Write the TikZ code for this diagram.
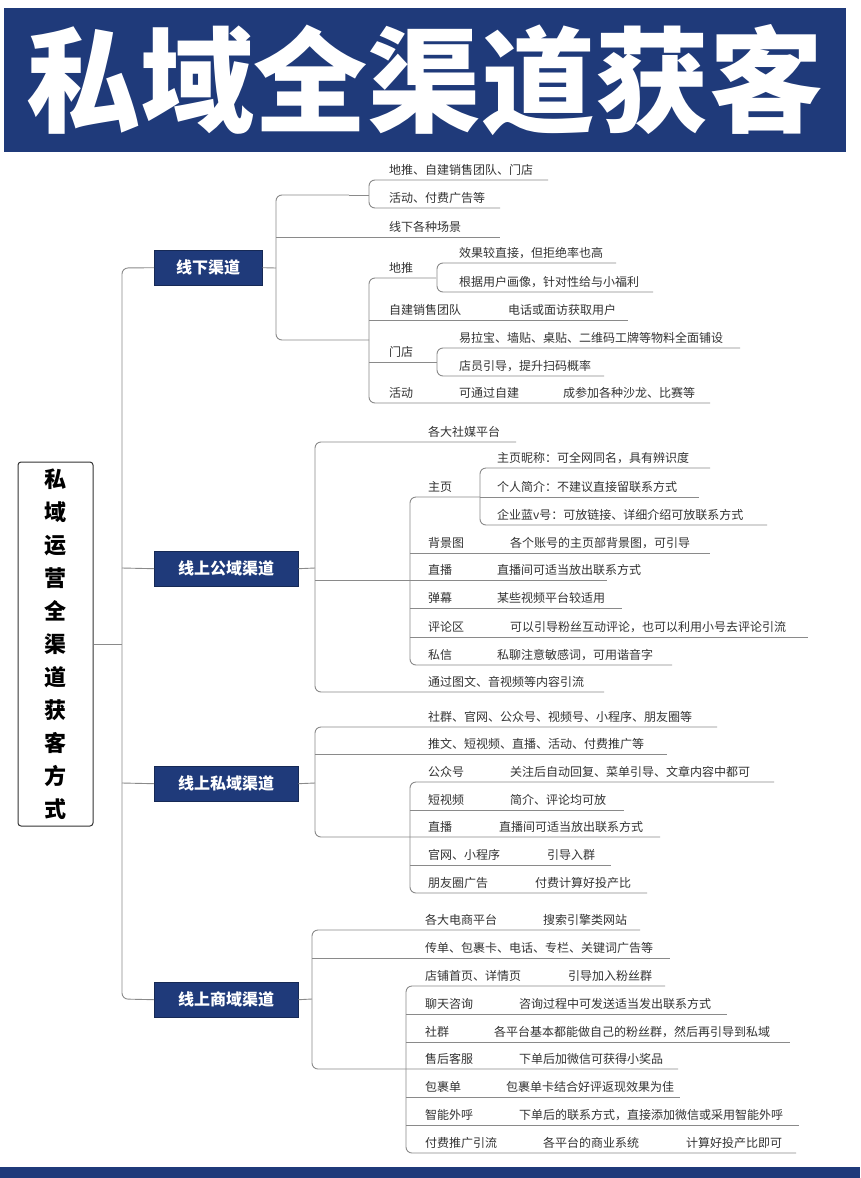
\documentclass[tikz,border=0pt]{standalone}
\usepackage{fontspec}
\setmainfont{Noto Sans CJK SC}
\definecolor{navy}{HTML}{1F3A7A}
\definecolor{ink}{HTML}{333333}
\definecolor{ln}{HTML}{8A8A8A}
\tikzset{
 lbl/.style={anchor=base west,inner sep=0pt,text=ink,font=\fontsize{12}{14}\selectfont},
 cat/.style={fill=navy,draw=navy!70!black,text=white,font=\fontsize{16}{18}\selectfont\bfseries,anchor=north west,inner sep=0pt},
 br/.style={draw=ln,line width=0.9pt,rounded corners=6pt},
 ul/.style={draw=ln,line width=0.9pt}
}
\newcommand\tx[3]{\node[lbl] at (#1,#2) {#3};}
\newcommand\ulin[3]{\draw[ul] (#1,#2) -- (#3,#2);}
\begin{document}
\begin{tikzpicture}[x=1pt,y=-1pt]
\useasboundingbox (0,0) rectangle (860,1178);
\fill[white] (0,0) rectangle (860,1178);
% title
\fill[navy] (4,8) rectangle (846,152);
\node[text=white,font=\fontsize{114}{120}\selectfont\bfseries] (title) at (425,80) {私域全渠道获客};
\fill[navy] (0,1167) rectangle (860,1178);
% root
\node[draw=ink,line width=1pt,rounded corners=3pt,minimum width=75pt,minimum height=364pt,inner sep=0pt] (root) at (55.5,644) {};
\node[text=black,font=\fontsize{22}{33}\selectfont\bfseries,align=center] (roott) at (55.5,644) {私\\域\\运\\营\\全\\渠\\道\\获\\客\\方\\式};
% categories
\node[cat,minimum width=108pt,minimum height=35pt] (c1) at (154,250) {线下渠道};
\node[cat,minimum width=144pt,minimum height=35pt] (c2) at (154,551) {线上公域渠道};
\node[cat,minimum width=144pt,minimum height=35pt] (c3) at (154,766) {线上私域渠道};
\node[cat,minimum width=144pt,minimum height=35pt] (c4) at (154,982) {线上商域渠道};
% trunk
\draw[ul] (root.east) -- (122,644);
\draw[br] (c1.west) -- (122,268) -- (122,999) -- (c4.west);
\draw[ul] (122,568) -- (c2.west);
\draw[ul] (122,783) -- (c3.west);
% ---------- group 1
\draw[ul] (c1.east) -- (276,268);
\draw[br] (349,195) -- (276,195) -- (276,340) -- (369,340);
\ulin{276}{237}{500}\tx{389}{231}{线下各种场景}
\draw[br] (548,180) -- (369,180) -- (369,208) -- (500,208);
\draw[ul] (349,195) -- (369,195);
\tx{389}{174}{地推、自建销售团队、门店}
\tx{389}{202}{活动、付费广告等}
\draw[br] (436,278) -- (369,278) -- (369,403) -- (710,403);
\tx{389}{272}{地推}
\draw[br] (616,263) -- (437,263) -- (437,292) -- (653,292);
\tx{459}{257}{效果较直接，但拒绝率也高}
\tx{459}{286}{根据用户画像，针对性给与小福利}
\ulin{369}{320}{628}\tx{389}{314}{自建销售团队}\tx{508}{314}{电话或面访获取用户}
\ulin{369}{362}{437}\tx{389}{356}{门店}
\draw[br] (740,348) -- (437,348) -- (437,376) -- (604,376);
\tx{459}{342}{易拉宝、墙贴、桌贴、二维码工牌等物料全面铺设}
\tx{459}{370}{店员引导，提升扫码概率}
\tx{389}{397}{活动}\tx{459}{397}{可通过自建}\tx{563}{397}{成参加各种沙龙、比赛等}
% ---------- group 2
\draw[ul] (c2.east) -- (315,568);
\draw[br] (516,442) -- (315,442) -- (315,692) -- (604,692);
\tx{428}{436}{各大社媒平台}
\draw[br] (480,497) -- (410,497) -- (410,665) -- (672,665);
\tx{428}{491}{主页}
\draw[br] (710,468) -- (480,468) -- (480,525) -- (767,525);
\ulin{480}{497}{699}
\tx{497}{462}{主页昵称：可全网同名，具有辨识度}
\tx{497}{491}{个人简介：不建议直接留联系方式}
\tx{497}{519}{企业蓝v号：可放链接、详细介绍可放联系方式}
\ulin{410}{553}{710}\tx{428}{547}{背景图}\tx{510}{547}{各个账号的主页部背景图，可引导}
\ulin{315}{580}{607}\tx{428}{574}{直播}\tx{497}{574}{直播间可适当放出联系方式}
\ulin{410}{608}{622}\tx{428}{602}{弹幕}\tx{497}{602}{某些视频平台较适用}
\ulin{410}{637}{808}\tx{428}{631}{评论区}\tx{510}{631}{可以引导粉丝互动评论，也可以利用小号去评论引流}
\tx{428}{659}{私信}\tx{497}{659}{私聊注意敏感词，可用谐音字}
\tx{428}{686}{通过图文、音视频等内容引流}
% ---------- group 3
\draw[ul] (c3.east) -- (315,783);
\draw[br] (717,727) -- (315,727) -- (315,837) -- (660,837);
\tx{428}{721}{社群、官网、公众号、视频号、小程序、朋友圈等}
\ulin{315}{754}{667}\tx{428}{748}{推文、短视频、直播、活动、付费推广等}
\draw[br] (774,782) -- (410,782) -- (410,893) -- (647,893);
\tx{428}{776}{公众号}\tx{510}{776}{关注后自动回复、菜单引导、文章内容中都可}
\ulin{410}{810}{624}\tx{428}{804}{短视频}\tx{510}{804}{简介、评论均可放}
\tx{428}{831}{直播}\tx{499}{831}{直播间可适当放出联系方式}
\ulin{410}{865}{611}\tx{428}{859}{官网、小程序}\tx{547}{859}{引导入群}
\tx{428}{887}{朋友圈广告}\tx{535}{887}{付费计算好投产比}
% ---------- group 4
\draw[ul] (c4.east) -- (312,999);
\draw[br] (640,930) -- (312,930) -- (312,1069) -- (678,1069);
\tx{425}{924}{各大电商平台}\tx{543}{924}{搜索引擎类网站}
\ulin{312}{958}{670}\tx{425}{952}{传单、包裹卡、电话、专栏、关键词广告等}
\draw[br] (665,986) -- (406,986) -- (406,1153) -- (796,1153);
\tx{425}{980}{店铺首页、详情页}\tx{568}{980}{引导加入粉丝群}
\ulin{406}{1014}{727}\tx{425}{1008}{聊天咨询}\tx{519}{1008}{咨询过程中可发送适当发出联系方式}
\ulin{406}{1042}{790}\tx{425}{1036}{社群}\tx{494}{1036}{各平台基本都能做自己的粉丝群，然后再引导到私域}
\tx{425}{1063}{售后客服}\tx{519}{1063}{下单后加微信可获得小奖品}
\ulin{406}{1097}{680}\tx{425}{1091}{包裹单}\tx{506}{1091}{包裹单卡结合好评返现效果为佳}
\ulin{406}{1125}{799}\tx{425}{1119}{智能外呼}\tx{519}{1119}{下单后的联系方式，直接添加微信或采用智能外呼}
\tx{425}{1147}{付费推广引流}\tx{543}{1147}{各平台的商业系统}\tx{686}{1147}{计算好投产比即可}
\end{tikzpicture}
\end{document}
